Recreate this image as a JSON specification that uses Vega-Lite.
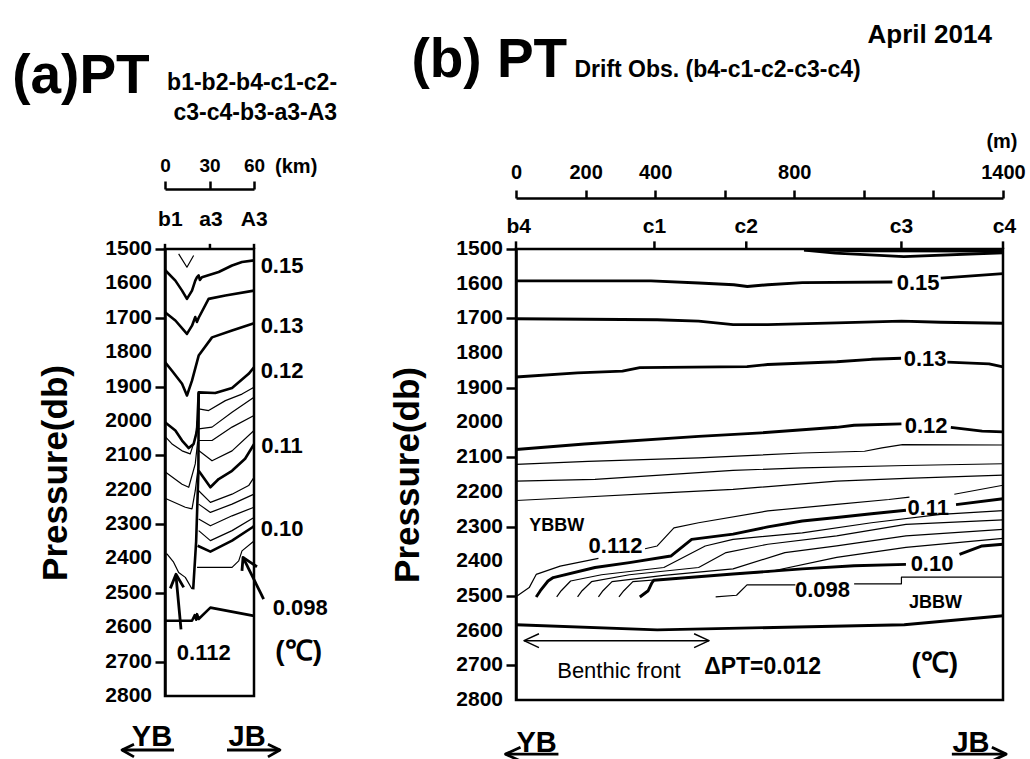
{
"$schema": "https://vega.github.io/schema/vega-lite/v6.json",
"padding": {"left": 10, "top": 20, "right": 0, "bottom": 0},
"autosize": {"type": "pad"},
"background": "white",
"config": {
  "font": "Liberation Sans",
  "view": {"stroke": "black", "strokeWidth": 2.5},
  "axis": {"domainColor": "black", "domainWidth": 2.5, "tickColor": "black", "tickWidth": 2.5, "labelColor": "black", "labelFont": "Liberation Sans", "labelFontWeight": "bold", "grid": false, "titleColor": "black", "titleFont": "Liberation Sans", "labelFlush": false, "labelOverlap": false},
  "text": {"color": "black", "font": "Liberation Sans"},
  "line": {"color": "black", "strokeJoin": "round", "strokeCap": "butt"},
  "rule": {"color": "black"}
},
"datasets": {
  "ticks": [{"p":1500},{"p":1600},{"p":1700},{"p":1800},{"p":1900},{"p":2000},{"p":2100},{"p":2200},{"p":2300},{"p":2400},{"p":2500},{"p":2600},{"p":2700},{"p":2800}],
  "a_major": [
    {"id":"a015","km":0,"p":1561},{"id":"a015","km":7,"p":1592},{"id":"a015","km":11.5,"p":1621},{"id":"a015","km":14.8,"p":1645},{"id":"a015","km":18.2,"p":1621},{"id":"a015","km":20.4,"p":1592},{"id":"a015","km":21.6,"p":1582},{"id":"a015","km":22.7,"p":1577},{"id":"a015","km":23.5,"p":1590},{"id":"a015","km":24.9,"p":1582},{"id":"a015","km":36.2,"p":1567},{"id":"a015","km":45.2,"p":1548},{"id":"a015","km":51.9,"p":1538},{"id":"a015","km":60,"p":1533},
    {"id":"a014","km":0,"p":1684},{"id":"a014","km":7,"p":1708},{"id":"a014","km":14.8,"p":1747},{"id":"a014","km":18.2,"p":1723},{"id":"a014","km":20.4,"p":1698},{"id":"a014","km":21.5,"p":1712},{"id":"a014","km":22.7,"p":1700},{"id":"a014","km":29.4,"p":1645},{"id":"a014","km":40.7,"p":1635},{"id":"a014","km":60,"p":1621},
    {"id":"a013","km":0,"p":1829},{"id":"a013","km":4.7,"p":1854},{"id":"a013","km":11.5,"p":1892},{"id":"a013","km":14.8,"p":1926},{"id":"a013","km":18.2,"p":1883},{"id":"a013","km":22.7,"p":1810},{"id":"a013","km":31.7,"p":1757},{"id":"a013","km":45.2,"p":1737},{"id":"a013","km":60,"p":1716},
    {"id":"a012","km":0,"p":2004},{"id":"a012","km":7,"p":2028},{"id":"a012","km":11.5,"p":2057},{"id":"a012","km":16,"p":2079},{"id":"a012","km":19.3,"p":2067},{"id":"a012","km":21.6,"p":2028},{"id":"a012","km":22.7,"p":1917},{"id":"a012","km":33.9,"p":1919},{"id":"a012","km":45.2,"p":1904},{"id":"a012","km":56.4,"p":1863},{"id":"a012","km":60,"p":1844},
    {"id":"awall","km":22.7,"p":1917},{"id":"awall","km":22.5,"p":2150},{"id":"awall","km":21,"p":2350},{"id":"awall","km":19,"p":2490},
    {"id":"a011","km":22.7,"p":2145},{"id":"a011","km":30.6,"p":2193},{"id":"a011","km":36.2,"p":2169},{"id":"a011","km":45.2,"p":2145},{"id":"a011","km":54,"p":2110},{"id":"a011","km":60,"p":2068},
    {"id":"a010","km":22,"p":2363},{"id":"a010","km":30.6,"p":2380},{"id":"a010","km":45.2,"p":2348},{"id":"a010","km":58.7,"p":2310},{"id":"a010","km":60,"p":2306},
    {"id":"abot","km":0,"p":2581},{"id":"abot","km":18.2,"p":2581},{"id":"abot","km":20,"p":2565},{"id":"abot","km":21,"p":2578},{"id":"abot","km":21.6,"p":2562},{"id":"abot","km":22.7,"p":2576},{"id":"abot","km":30.6,"p":2543},{"id":"abot","km":60,"p":2567}
  ],
  "a_minor": [
    {"id":"aV","km":9.2,"p":1514},{"id":"aV","km":14.8,"p":1553},{"id":"aV","km":19.3,"p":1519},
    {"id":"aL1","km":0,"p":2045},{"id":"aL1","km":5,"p":2068},{"id":"aL1","km":11.5,"p":2087},{"id":"aL1","km":17,"p":2096},{"id":"aL1","km":20.4,"p":2052},{"id":"aL1","km":21.8,"p":2000},
    {"id":"aL2","km":0,"p":2148},{"id":"aL2","km":11.5,"p":2184},{"id":"aL2","km":16,"p":2193},{"id":"aL2","km":20.4,"p":2125},{"id":"aL2","km":22,"p":2060},
    {"id":"aL3","km":0,"p":2225},{"id":"aL3","km":13.7,"p":2251},{"id":"aL3","km":18.2,"p":2256},{"id":"aL3","km":20.4,"p":2203},{"id":"aL3","km":22.2,"p":2140},
    {"id":"aR1","km":22.7,"p":1965},{"id":"aR1","km":29.4,"p":1970},{"id":"aR1","km":40.7,"p":1941},{"id":"aR1","km":51.9,"p":1922},{"id":"aR1","km":60,"p":1902},
    {"id":"aR2","km":22.7,"p":2023},{"id":"aR2","km":31.7,"p":2018},{"id":"aR2","km":45.2,"p":1975},{"id":"aR2","km":60,"p":1931},
    {"id":"aR3","km":22.7,"p":2057},{"id":"aR3","km":31.7,"p":2057},{"id":"aR3","km":45.2,"p":2018},{"id":"aR3","km":60,"p":1984},
    {"id":"aR4","km":22.7,"p":2086},{"id":"aR4","km":31.7,"p":2116},{"id":"aR4","km":45.2,"p":2087},{"id":"aR4","km":60,"p":2028},
    {"id":"aR5","km":22.7,"p":2203},{"id":"aR5","km":30.6,"p":2237},{"id":"aR5","km":45.2,"p":2213},{"id":"aR5","km":56.4,"p":2188},{"id":"aR5","km":60,"p":2164},
    {"id":"aR6","km":22.7,"p":2242},{"id":"aR6","km":30.6,"p":2266},{"id":"aR6","km":45.2,"p":2242},{"id":"aR6","km":60,"p":2213},
    {"id":"aR7","km":22.7,"p":2285},{"id":"aR7","km":30.6,"p":2305},{"id":"aR7","km":45.2,"p":2276},{"id":"aR7","km":60,"p":2251},
    {"id":"aR8","km":22.7,"p":2319},{"id":"aR8","km":30.6,"p":2348},{"id":"aR8","km":45.2,"p":2319},{"id":"aR8","km":60,"p":2281},
    {"id":"a0098","km":21.6,"p":2426},{"id":"a0098","km":45.2,"p":2426},{"id":"a0098","km":49.7,"p":2407},{"id":"a0098","km":51.9,"p":2378},{"id":"a0098","km":60,"p":2349},
    {"id":"a0112","km":0,"p":2387},{"id":"a0112","km":1.3,"p":2387},{"id":"a0112","km":5.8,"p":2411},{"id":"a0112","km":9.2,"p":2441},{"id":"a0112","km":13.7,"p":2455},{"id":"a0112","km":18.2,"p":2489}
  ],
  "a_arrows": [
    {"id":"s1","km":10.8,"p":2606},{"id":"s1","km":7.4,"p":2450},
    {"id":"h1","km":3.6,"p":2487},{"id":"h1","km":7.4,"p":2446},{"id":"h1","km":12.6,"p":2484},
    {"id":"s2","km":66.5,"p":2518},{"id":"s2","km":52.6,"p":2397},
    {"id":"h2","km":51.9,"p":2436},{"id":"h2","km":52.6,"p":2397},{"id":"h2","km":62,"p":2424},
    {"id":"ybU","km":6.1,"p":2957},{"id":"ybU","km":-29,"p":2957},
    {"id":"ybH","km":-20.9,"p":2940},{"id":"ybH","km":-29,"p":2957},{"id":"ybH","km":-20.9,"p":2977},
    {"id":"jbU","km":41.8,"p":2957},{"id":"jbU","km":77.5,"p":2957},
    {"id":"jbH","km":69.4,"p":2940},{"id":"jbH","km":77.5,"p":2957},{"id":"jbH","km":69.4,"p":2977}
  ],
  "b_major": [
    {"id":"btop1","m":828,"p":1503},{"id":"btop1","m":918,"p":1512},{"id":"btop1","m":1115,"p":1522},{"id":"btop1","m":1400,"p":1511},
    {"id":"btop2","m":828,"p":1502},{"id":"btop2","m":1000,"p":1505},{"id":"btop2","m":1400,"p":1506},
    {"id":"b015a","m":0,"p":1592},{"id":"b015a","m":388,"p":1592},{"id":"b015a","m":526,"p":1598},{"id":"b015a","m":626,"p":1603},{"id":"b015a","m":665,"p":1608},{"id":"b015a","m":724,"p":1603},{"id":"b015a","m":823,"p":1597},{"id":"b015a","m":1082,"p":1595},
    {"id":"b015b","m":1221,"p":1584},{"id":"b015b","m":1400,"p":1571},
    {"id":"b014","m":0,"p":1701},{"id":"b014","m":406,"p":1704},{"id":"b014","m":525,"p":1708},{"id":"b014","m":624,"p":1718},{"id":"b014","m":724,"p":1718},{"id":"b014","m":922,"p":1713},{"id":"b014","m":1108,"p":1708},{"id":"b014","m":1221,"p":1711},{"id":"b014","m":1400,"p":1714},
    {"id":"b013a","m":0,"p":1869},{"id":"b013a","m":177,"p":1857},{"id":"b013a","m":306,"p":1852},{"id":"b013a","m":356,"p":1842},{"id":"b013a","m":664,"p":1839},{"id":"b013a","m":724,"p":1833},{"id":"b013a","m":922,"p":1825},{"id":"b013a","m":1022,"p":1818},{"id":"b013a","m":1107,"p":1815},
    {"id":"b013b","m":1240,"p":1826},{"id":"b013b","m":1360,"p":1831},{"id":"b013b","m":1400,"p":1840},
    {"id":"b012a","m":0,"p":2078},{"id":"b012a","m":197,"p":2062},{"id":"b012a","m":525,"p":2040},{"id":"b012a","m":705,"p":2030},{"id":"b012a","m":922,"p":2014},{"id":"b012a","m":972,"p":2008},{"id":"b012a","m":1108,"p":2004},
    {"id":"b012b","m":1250,"p":2014},{"id":"b012b","m":1340,"p":2025},{"id":"b012b","m":1400,"p":2027},
    {"id":"b011a","m":58,"p":2503},{"id":"b011a","m":70,"p":2485},{"id":"b011a","m":92,"p":2457},{"id":"b011a","m":107,"p":2447},{"id":"b011a","m":227,"p":2418},{"id":"b011a","m":326,"p":2404},{"id":"b011a","m":445,"p":2385},{"id":"b011a","m":505,"p":2337},{"id":"b011a","m":624,"p":2322},{"id":"b011a","m":724,"p":2301},{"id":"b011a","m":823,"p":2284},{"id":"b011a","m":922,"p":2274},{"id":"b011a","m":1022,"p":2263},{"id":"b011a","m":1121,"p":2253},
    {"id":"b011b","m":1265,"p":2237},{"id":"b011b","m":1400,"p":2220},
    {"id":"b010a","m":356,"p":2503},{"id":"b010a","m":380,"p":2485},{"id":"b010a","m":391,"p":2462},{"id":"b010a","m":396,"p":2455},{"id":"b010a","m":624,"p":2437},{"id":"b010a","m":823,"p":2422},{"id":"b010a","m":972,"p":2413},{"id":"b010a","m":1121,"p":2409},
    {"id":"b010b","m":1275,"p":2380},{"id":"b010b","m":1340,"p":2356},{"id":"b010b","m":1400,"p":2351},
    {"id":"bbot","m":0,"p":2583},{"id":"bbot","m":406,"p":2598},{"id":"bbot","m":1116,"p":2583},{"id":"bbot","m":1400,"p":2557}
  ],
  "b_minor": [
    {"id":"T1","m":0,"p":2121},{"id":"T1","m":207,"p":2112},{"id":"T1","m":525,"p":2102},{"id":"T1","m":823,"p":2088},{"id":"T1","m":1002,"p":2083},{"id":"T1","m":1052,"p":2073},{"id":"T1","m":1111,"p":2064},{"id":"T1","m":1400,"p":2065},
    {"id":"T2","m":0,"p":2169},{"id":"T2","m":227,"p":2164},{"id":"T2","m":624,"p":2138},{"id":"T2","m":823,"p":2131},{"id":"T2","m":1121,"p":2124},{"id":"T2","m":1400,"p":2119},
    {"id":"T3","m":0,"p":2225},{"id":"T3","m":157,"p":2217},{"id":"T3","m":425,"p":2203},{"id":"T3","m":624,"p":2193},{"id":"T3","m":922,"p":2169},{"id":"T3","m":1121,"p":2161},{"id":"T3","m":1400,"p":2152},
    {"id":"b0112a","m":3,"p":2500},{"id":"b0112a","m":38,"p":2476},{"id":"b0112a","m":58,"p":2438},{"id":"b0112a","m":127,"p":2414},{"id":"b0112a","m":237,"p":2392},
    {"id":"b0112b","m":371,"p":2364},{"id":"b0112b","m":406,"p":2356},{"id":"b0112b","m":454,"p":2304},{"id":"b0112b","m":525,"p":2289},{"id":"b0112b","m":724,"p":2255},{"id":"b0112b","m":922,"p":2236},{"id":"b0112b","m":1072,"p":2222},{"id":"b0112b","m":1131,"p":2215},
    {"id":"b0112c","m":1260,"p":2207},{"id":"b0112c","m":1400,"p":2181},
    {"id":"L108","m":117,"p":2503},{"id":"L108","m":130,"p":2485},{"id":"L108","m":157,"p":2457},{"id":"L108","m":246,"p":2439},{"id":"L108","m":425,"p":2418},{"id":"L108","m":544,"p":2356},{"id":"L108","m":624,"p":2337},{"id":"L108","m":823,"p":2318},{"id":"L108","m":1022,"p":2289},{"id":"L108","m":1221,"p":2265},{"id":"L108","m":1400,"p":2254},
    {"id":"L106","m":177,"p":2503},{"id":"L106","m":190,"p":2485},{"id":"L106","m":217,"p":2459},{"id":"L106","m":326,"p":2439},{"id":"L106","m":525,"p":2418},{"id":"L106","m":604,"p":2375},{"id":"L106","m":724,"p":2351},{"id":"L106","m":922,"p":2327},{"id":"L106","m":1121,"p":2294},{"id":"L106","m":1400,"p":2281},
    {"id":"L104","m":237,"p":2503},{"id":"L104","m":250,"p":2485},{"id":"L104","m":276,"p":2459},{"id":"L104","m":425,"p":2441},{"id":"L104","m":624,"p":2422},{"id":"L104","m":773,"p":2375},{"id":"L104","m":922,"p":2356},{"id":"L104","m":1121,"p":2327},{"id":"L104","m":1400,"p":2308},
    {"id":"L102","m":296,"p":2503},{"id":"L102","m":310,"p":2485},{"id":"L102","m":336,"p":2459},{"id":"L102","m":525,"p":2444},{"id":"L102","m":724,"p":2431},{"id":"L102","m":922,"p":2389},{"id":"L102","m":1121,"p":2360},{"id":"L102","m":1400,"p":2334},
    {"id":"b0098a","m":574,"p":2503},{"id":"b0098a","m":634,"p":2498},{"id":"b0098a","m":664,"p":2468},{"id":"b0098a","m":803,"p":2468},
    {"id":"b0098b","m":972,"p":2465},{"id":"b0098b","m":1108,"p":2465},{"id":"b0098b","m":1108,"p":2446},{"id":"b0098b","m":1400,"p":2446}
  ],
  "b_front": [
    {"id":"fs","m":23,"p":2629},{"id":"fs","m":555,"p":2629},
    {"id":"fl","m":66,"p":2609},{"id":"fl","m":23,"p":2629},{"id":"fl","m":66,"p":2649},
    {"id":"fr","m":512,"p":2609},{"id":"fr","m":555,"p":2629},{"id":"fr","m":512,"p":2649}
  ],
  "b_arrows": [
    {"id":"ybU","m":122,"p":2956},{"id":"ybU","m":-30,"p":2956},
    {"id":"ybH","m":13,"p":2936},{"id":"ybH","m":-30,"p":2956},{"id":"ybH","m":13,"p":2976},
    {"id":"jbU","m":1253,"p":2956},{"id":"jbU","m":1409,"p":2956},
    {"id":"jbH","m":1368,"p":2936},{"id":"jbH","m":1409,"p":2956},{"id":"jbH","m":1368,"p":2976}
  ]
},
"spacing": 262,
"bounds": "flush",
"resolve": {"scale": {"x": "independent", "y": "independent"}},
"hconcat": [
  {
    "width": 89, "height": 447,
    "layer": [
      {"data": {"name": "a_major"}, "mark": {"type": "line", "strokeWidth": 2.6},
       "encoding": {
         "x": {"field": "km", "type": "quantitative", "scale": {"domain": [0, 60], "nice": false, "zero": false},
               "axis": {"orient": "top", "offset": 60, "values": [0, 30, 60], "format": "d", "tickSize": 8, "labelFontSize": 19, "labelPadding": 6, "title": null, "labelOverlap": false, "labelFlush": false}},
         "y": {"field": "p", "type": "quantitative", "scale": {"domain": [1500, 2800], "reverse": true, "nice": false, "zero": false},
               "axis": {"orient": "left", "values": [1500,1600,1700,1800,1900,2000,2100,2200,2300,2400,2500,2600,2700,2800], "labels": false, "tickSize": 10, "title": "Pressure(db)", "titleFontSize": 35, "titleFontWeight": "bold", "titlePadding": 80}},
         "detail": {"field": "id"},
         "order": {"value": null}
       }},
      {"data": {"name": "ticks"}, "mark": {"type": "text", "fontSize": 21, "fontWeight": "bold", "align": "right", "baseline": "middle", "dx": -13},
       "encoding": {"x": {"datum": 0, "type": "quantitative"}, "y": {"field": "p", "type": "quantitative"}, "text": {"field": "p", "type": "quantitative", "format": "d"}}},
      {"data": {"name": "a_minor"}, "mark": {"type": "line", "strokeWidth": 1.2},
       "encoding": {"x": {"field": "km", "type": "quantitative"}, "y": {"field": "p", "type": "quantitative"}, "detail": {"field": "id"}, "order": {"value": null}}},
      {"data": {"name": "a_arrows"}, "mark": {"type": "line", "strokeWidth": 2.8},
       "encoding": {"x": {"field": "km", "type": "quantitative"}, "y": {"field": "p", "type": "quantitative"}, "detail": {"field": "id"}, "order": {"value": null}}},
      {"data": {"values": [{"km": 0}, {"km": 30.3}, {"km": 60}]}, "mark": {"type": "rule", "strokeWidth": 2.5},
       "encoding": {"x": {"field": "km", "type": "quantitative"}, "y": {"datum": 1500, "type": "quantitative"}, "y2": {"datum": 1485}}},
      {"data": {"values": [{"km": -103, "p": 1046, "t": "(a)PT"}]}, "mark": {"type": "text", "fontSize": 55, "fontWeight": "bold", "align": "left", "baseline": "alphabetic"},
       "encoding": {"x": {"field": "km", "type": "quantitative"}, "y": {"field": "p", "type": "quantitative"}, "text": {"field": "t"}}},
      {"data": {"values": [{"km": 116, "p": 1039, "t": "b1-b2-b4-c1-c2-"}, {"km": 116, "p": 1124, "t": "c3-c4-b3-a3-A3"}]}, "mark": {"type": "text", "fontSize": 23, "fontWeight": "bold", "align": "right", "baseline": "alphabetic"},
       "encoding": {"x": {"field": "km", "type": "quantitative"}, "y": {"field": "p", "type": "quantitative"}, "text": {"field": "t"}}},
      {"data": {"values": [{"km": 74.2, "p": 1280, "t": "(km)"}]}, "mark": {"type": "text", "fontSize": 20, "fontWeight": "bold", "align": "left", "baseline": "alphabetic"},
       "encoding": {"x": {"field": "km", "type": "quantitative"}, "y": {"field": "p", "type": "quantitative"}, "text": {"field": "t"}}},
      {"data": {"values": [{"km": 3.6, "p": 1432, "t": "b1"}, {"km": 31, "p": 1432, "t": "a3"}, {"km": 60.2, "p": 1432, "t": "A3"}]}, "mark": {"type": "text", "fontSize": 21, "fontWeight": "bold", "align": "center", "baseline": "alphabetic"},
       "encoding": {"x": {"field": "km", "type": "quantitative"}, "y": {"field": "p", "type": "quantitative"}, "text": {"field": "t"}}},
      {"data": {"values": [{"km": 78.9, "p": 1548, "t": "0.15"}, {"km": 78.9, "p": 1723, "t": "0.13"}, {"km": 78.9, "p": 1854, "t": "0.12"}, {"km": 78.9, "p": 2072, "t": "0.11"}, {"km": 78.9, "p": 2315, "t": "0.10"}, {"km": 91.2, "p": 2543, "t": "0.098"}, {"km": 26.1, "p": 2676, "t": "0.112"}]}, "mark": {"type": "text", "fontSize": 22, "fontWeight": "bold", "align": "center", "baseline": "middle"},
       "encoding": {"x": {"field": "km", "type": "quantitative"}, "y": {"field": "p", "type": "quantitative"}, "text": {"field": "t"}}},
      {"data": {"values": [{"km": 90.1, "p": 2671, "t": "(℃)"}]}, "mark": {"type": "text", "fontSize": 28, "fontWeight": "bold", "align": "center", "baseline": "middle"},
       "encoding": {"x": {"field": "km", "type": "quantitative"}, "y": {"field": "p", "type": "quantitative"}, "text": {"field": "t"}}},
      {"data": {"values": [{"km": -8.8, "p": 2945, "t": "YB"}, {"km": 55.3, "p": 2945, "t": "JB"}]}, "mark": {"type": "text", "fontSize": 29, "fontWeight": "bold", "align": "center", "baseline": "alphabetic"},
       "encoding": {"x": {"field": "km", "type": "quantitative"}, "y": {"field": "p", "type": "quantitative"}, "text": {"field": "t"}}}
    ]
  },
  {
    "width": 487, "height": 451,
    "layer": [
      {"data": {"name": "b_major"}, "mark": {"type": "line", "strokeWidth": 2.9},
       "encoding": {
         "x": {"field": "m", "type": "quantitative", "scale": {"domain": [0, 1400], "nice": false, "zero": false},
               "axis": {"orient": "top", "offset": 51, "values": [0,200,400,600,800,1000,1200,1400], "format": "d", "labelExpr": "indexof([0,200,400,800,1400], datum.value) >= 0 ? datum.label : ''", "tickSize": 8, "labelFontSize": 20, "labelPadding": 8, "title": null, "labelOverlap": false, "labelFlush": false}},
         "y": {"field": "p", "type": "quantitative", "scale": {"domain": [1500, 2800], "reverse": true, "nice": false, "zero": false},
               "axis": {"orient": "left", "values": [1500,1600,1700,1800,1900,2000,2100,2200,2300,2400,2500,2600,2700,2800], "labels": false, "tickSize": 10, "title": "Pressure(db)", "titleFontSize": 35, "titleFontWeight": "bold", "titlePadding": 79}},
         "detail": {"field": "id"},
         "order": {"value": null}
       }},
      {"data": {"name": "ticks"}, "mark": {"type": "text", "fontSize": 21, "fontWeight": "bold", "align": "right", "baseline": "middle", "dx": -13},
       "encoding": {"x": {"datum": 0, "type": "quantitative"}, "y": {"field": "p", "type": "quantitative"}, "text": {"field": "p", "type": "quantitative", "format": "d"}}},
      {"data": {"name": "b_minor"}, "mark": {"type": "line", "strokeWidth": 1.2},
       "encoding": {"x": {"field": "m", "type": "quantitative"}, "y": {"field": "p", "type": "quantitative"}, "detail": {"field": "id"}, "order": {"value": null}}},
      {"data": {"name": "b_front"}, "mark": {"type": "line", "strokeWidth": 1.5},
       "encoding": {"x": {"field": "m", "type": "quantitative"}, "y": {"field": "p", "type": "quantitative"}, "detail": {"field": "id"}, "order": {"value": null}}},
      {"data": {"name": "b_arrows"}, "mark": {"type": "line", "strokeWidth": 2.8},
       "encoding": {"x": {"field": "m", "type": "quantitative"}, "y": {"field": "p", "type": "quantitative"}, "detail": {"field": "id"}, "order": {"value": null}}},
      {"data": {"values": [{"m": 0}, {"m": 398}, {"m": 662}, {"m": 1108}, {"m": 1400}]}, "mark": {"type": "rule", "strokeWidth": 2.5},
       "encoding": {"x": {"field": "m", "type": "quantitative"}, "y": {"datum": 1500, "type": "quantitative"}, "y2": {"datum": 1478}}},
      {"data": {"values": [{"m": -300.7, "p": 1003, "t": "(b) PT"}]}, "mark": {"type": "text", "fontSize": 55, "fontWeight": "bold", "align": "left", "baseline": "alphabetic"},
       "encoding": {"x": {"field": "m", "type": "quantitative"}, "y": {"field": "p", "type": "quantitative"}, "text": {"field": "t"}}},
      {"data": {"values": [{"m": 168, "p": 1003, "t": "Drift Obs.   (b4-c1-c2-c3-c4)"}]}, "mark": {"type": "text", "fontSize": 23, "fontWeight": "bold", "align": "left", "baseline": "alphabetic"},
       "encoding": {"x": {"field": "m", "type": "quantitative"}, "y": {"field": "p", "type": "quantitative"}, "text": {"field": "t"}}},
      {"data": {"values": [{"m": 1368, "p": 906, "t": "April 2014"}]}, "mark": {"type": "text", "fontSize": 26, "fontWeight": "bold", "align": "right", "baseline": "alphabetic"},
       "encoding": {"x": {"field": "m", "type": "quantitative"}, "y": {"field": "p", "type": "quantitative"}, "text": {"field": "t"}}},
      {"data": {"values": [{"m": 1397, "p": 1209, "t": "(m)"}]}, "mark": {"type": "text", "fontSize": 20, "fontWeight": "bold", "align": "center", "baseline": "alphabetic"},
       "encoding": {"x": {"field": "m", "type": "quantitative"}, "y": {"field": "p", "type": "quantitative"}, "text": {"field": "t"}}},
      {"data": {"values": [{"m": 8, "p": 1454, "t": "b4"}, {"m": 398, "p": 1454, "t": "c1"}, {"m": 662, "p": 1454, "t": "c2"}, {"m": 1108, "p": 1454, "t": "c3"}, {"m": 1404, "p": 1454, "t": "c4"}]}, "mark": {"type": "text", "fontSize": 21, "fontWeight": "bold", "align": "center", "baseline": "alphabetic"},
       "encoding": {"x": {"field": "m", "type": "quantitative"}, "y": {"field": "p", "type": "quantitative"}, "text": {"field": "t"}}},
      {"data": {"values": [{"m": 1156, "p": 1598, "t": "0.15"}, {"m": 1176, "p": 1816, "t": "0.13"}, {"m": 1179, "p": 2010, "t": "0.12"}, {"m": 1185, "p": 2248, "t": "0.11"}, {"m": 1196, "p": 2407, "t": "0.10"}, {"m": 881, "p": 2483, "t": "0.098"}, {"m": 286, "p": 2356, "t": "0.112"}]}, "mark": {"type": "text", "fontSize": 22, "fontWeight": "bold", "align": "center", "baseline": "middle"},
       "encoding": {"x": {"field": "m", "type": "quantitative"}, "y": {"field": "p", "type": "quantitative"}, "text": {"field": "t"}}},
      {"data": {"values": [{"m": 117, "p": 2299, "t": "YBBW"}, {"m": 1206, "p": 2521, "t": "JBBW"}]}, "mark": {"type": "text", "fontSize": 18, "fontWeight": "bold", "align": "center", "baseline": "middle"},
       "encoding": {"x": {"field": "m", "type": "quantitative"}, "y": {"field": "p", "type": "quantitative"}, "text": {"field": "t"}}},
      {"data": {"values": [{"m": 296, "p": 2716, "t": "Benthic front"}]}, "mark": {"type": "text", "fontSize": 22, "align": "center", "baseline": "middle"},
       "encoding": {"x": {"field": "m", "type": "quantitative"}, "y": {"field": "p", "type": "quantitative"}, "text": {"field": "t"}}},
      {"data": {"values": [{"m": 709, "p": 2706, "t": "ΔPT=0.012"}]}, "mark": {"type": "text", "fontSize": 23, "fontWeight": "bold", "align": "center", "baseline": "middle"},
       "encoding": {"x": {"field": "m", "type": "quantitative"}, "y": {"field": "p", "type": "quantitative"}, "text": {"field": "t"}}},
      {"data": {"values": [{"m": 1204, "p": 2695, "t": "(℃)"}]}, "mark": {"type": "text", "fontSize": 28, "fontWeight": "bold", "align": "center", "baseline": "middle"},
       "encoding": {"x": {"field": "m", "type": "quantitative"}, "y": {"field": "p", "type": "quantitative"}, "text": {"field": "t"}}},
      {"data": {"values": [{"m": 59, "p": 2950, "t": "YB"}, {"m": 1308, "p": 2950, "t": "JB"}]}, "mark": {"type": "text", "fontSize": 29, "fontWeight": "bold", "align": "center", "baseline": "alphabetic"},
       "encoding": {"x": {"field": "m", "type": "quantitative"}, "y": {"field": "p", "type": "quantitative"}, "text": {"field": "t"}}}
    ]
  }
]
}
